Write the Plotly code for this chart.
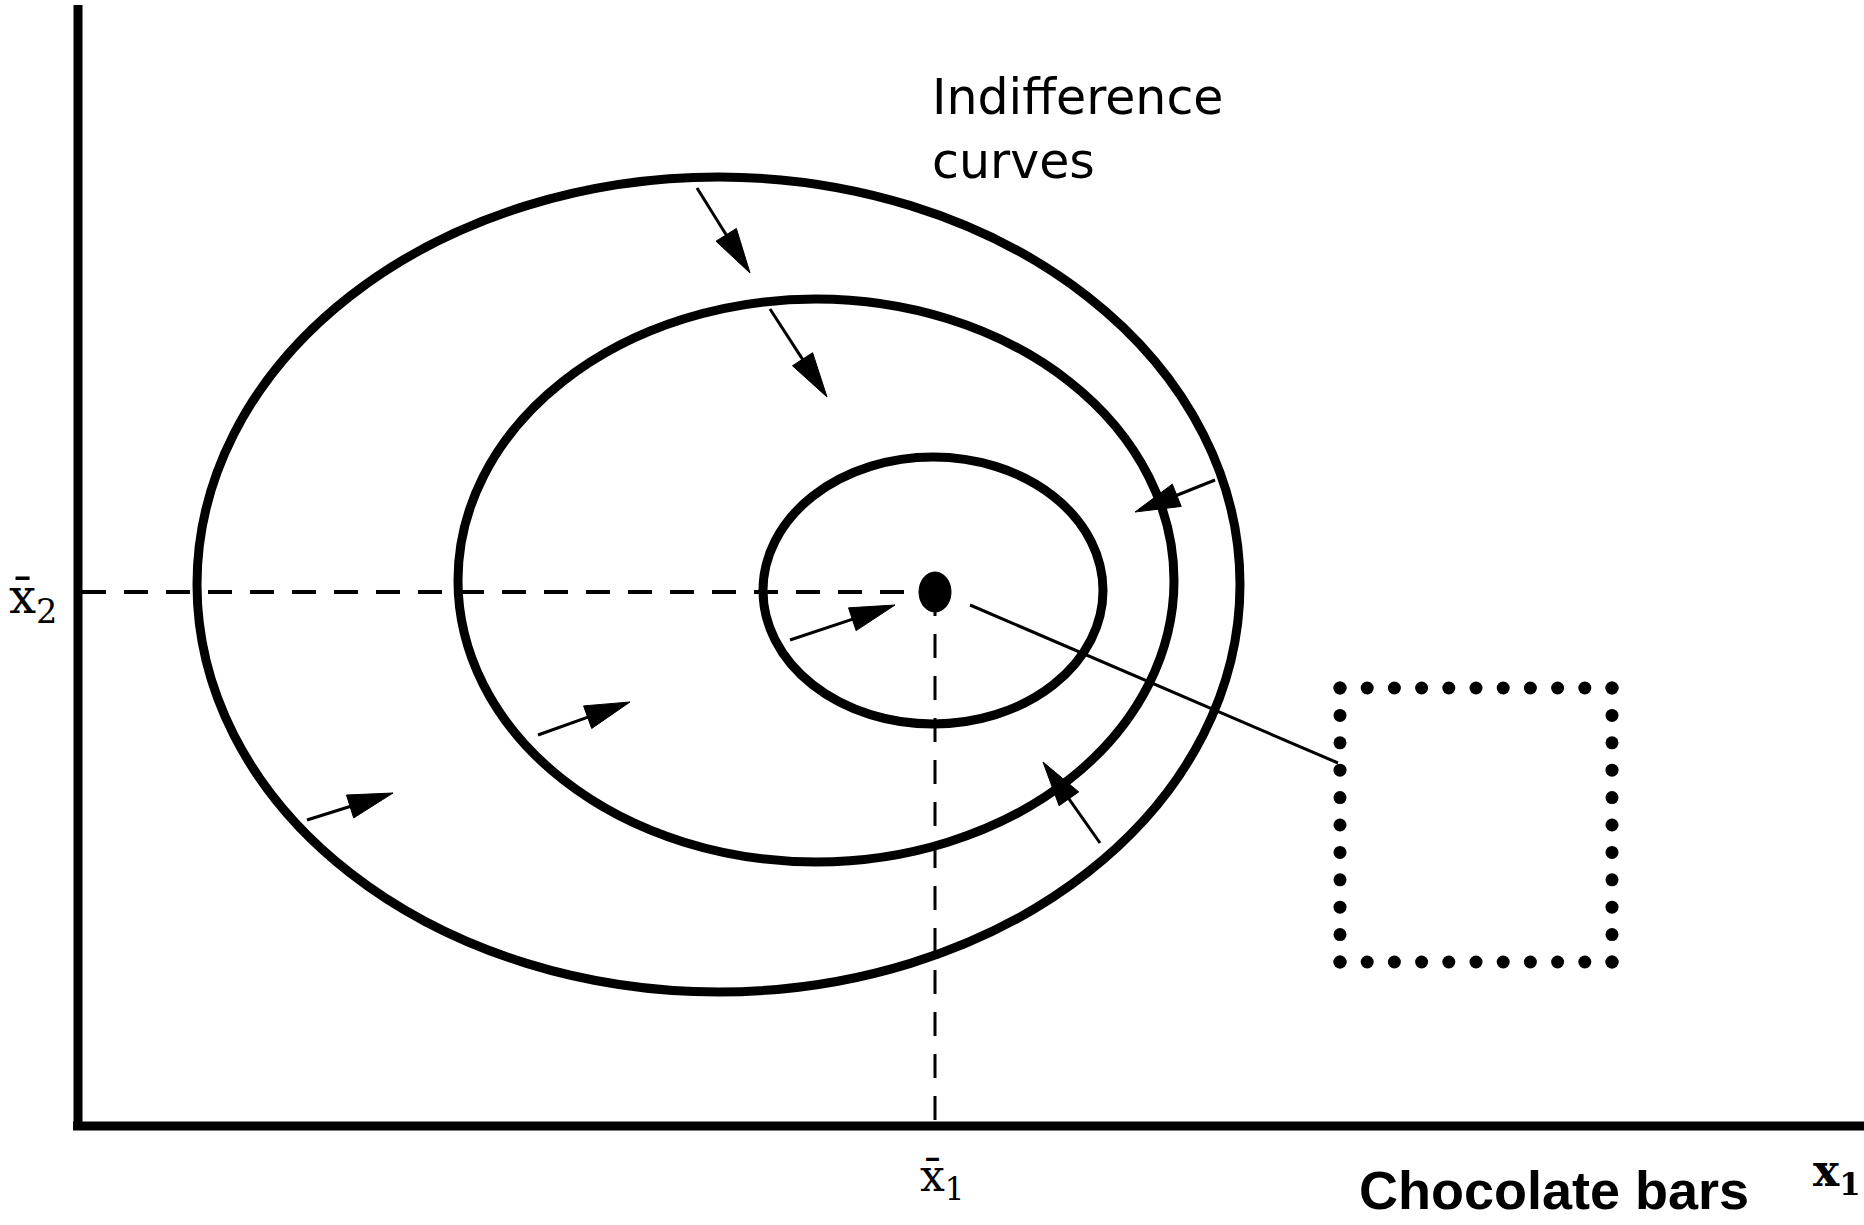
import numpy as np
import plotly.graph_objects as go

# ---- data (units: goods quantities, origin at the axes corner) ----
# indifference curves as bounding extents: [left, right], [bottom, top]
curve_names = ["outer", "middle", "inner"]
curve_x_extent = [[1.19, 11.62], [3.80, 10.96], [6.85, 10.25]]
curve_y_extent = [[1.34, 9.49], [2.64, 8.27], [4.02, 6.69]]

bliss_x1 = 8.57
bliss_x2 = 5.34

# arrows: tail -> tip
arrow_tail_x = [6.19, 6.92, 7.12, 4.60, 2.29, 11.37, 10.22]
arrow_tail_y = [9.38, 8.17, 4.86, 3.91, 3.06, 6.46, 2.83]
arrow_tip_x = [6.72, 7.49, 8.17, 5.52, 3.15, 10.57, 9.65]
arrow_tip_y = [8.53, 7.29, 5.21, 4.24, 3.33, 6.14, 3.64]

# pointer line from bliss point to the chocolate-bar box
pointer_x = [8.92, 12.60]
pointer_y = [5.21, 3.63]

# chocolate-bar box extents
box_x = [12.62, 15.34]
box_y = [1.64, 4.38]

x_axis_max = 17.86
y_axis_max = 11.21

fig = go.Figure()

# indifference curves
for (xa, xb), (ya, yb) in zip(curve_x_extent, curve_y_extent):
    fig.add_shape(type="circle", xref="x", yref="y", x0=xa, x1=xb, y0=ya, y1=yb,
                  line=dict(color="black", width=9), fillcolor="rgba(0,0,0,0)", layer="below")

# axes
fig.add_trace(go.Scatter(x=[0, 0], y=[-0.04, y_axis_max], mode="lines",
                         line=dict(color="black", width=9), hoverinfo="skip"))
fig.add_trace(go.Scatter(x=[-0.05, x_axis_max], y=[0, 0], mode="lines",
                         line=dict(color="black", width=9), hoverinfo="skip"))

# dashed guides to the bliss point
fig.add_trace(go.Scatter(x=[0.04, bliss_x1], y=[bliss_x2, bliss_x2], mode="lines",
                         line=dict(color="black", width=4, dash="24px,18px"), hoverinfo="skip"))
fig.add_trace(go.Scatter(x=[bliss_x1, bliss_x1], y=[bliss_x2, 0], mode="lines",
                         line=dict(color="black", width=3, dash="24px,18px"), hoverinfo="skip"))

# pointer line
fig.add_trace(go.Scatter(x=pointer_x, y=pointer_y, mode="lines",
                         line=dict(color="black", width=3), hoverinfo="skip"))

# arrows (shaft + filled head)
head_len = 0.45
head_half = 0.12
for tx, ty, px, py in zip(arrow_tail_x, arrow_tail_y, arrow_tip_x, arrow_tip_y):
    d = np.array([px - tx, py - ty])
    d = d / np.linalg.norm(d)
    n = np.array([-d[1], d[0]])
    tip = np.array([px, py])
    base = tip - head_len * d
    fig.add_trace(go.Scatter(x=[tx, base[0] + 0.1 * d[0]], y=[ty, base[1] + 0.1 * d[1]], mode="lines",
                             line=dict(color="black", width=3), hoverinfo="skip"))
    p1 = base + head_half * n
    p2 = base - head_half * n
    fig.add_trace(go.Scatter(x=[tip[0], p1[0], p2[0], tip[0]], y=[tip[1], p1[1], p2[1], tip[1]],
                             mode="lines", fill="toself", fillcolor="black",
                             line=dict(color="black", width=1), hoverinfo="skip"))

# dotted box
n_int = 10
bx = np.linspace(box_x[0], box_x[1], n_int + 1)
by = np.linspace(box_y[0], box_y[1], n_int + 1)
dots_x = list(bx) + list(bx) + [box_x[0]] * (n_int + 1) + [box_x[1]] * (n_int + 1)
dots_y = [box_y[1]] * (n_int + 1) + [box_y[0]] * (n_int + 1) + list(by) + list(by)
fig.add_trace(go.Scatter(x=dots_x, y=dots_y, mode="markers",
                         marker=dict(color="black", size=13, line=dict(width=0)), hoverinfo="skip"))

# bliss point dot
fig.add_shape(type="circle", xref="x", yref="y",
              x0=bliss_x1 - 0.16, x1=bliss_x1 + 0.16, y0=bliss_x2 - 0.20, y1=bliss_x2 + 0.20,
              fillcolor="black", line=dict(color="black", width=1))

annots = [
    dict(x=8.52, y=9.97, text="Indifference<br>curves", xanchor="left", yanchor="middle", align="left",
         font=dict(family="DejaVu Sans", size=49, color="black")),
    dict(x=14.76, y=-0.64, text="<b>Chocolate bars</b>", xanchor="center", yanchor="middle",
         font=dict(family="Liberation Sans", size=54, color="black")),
    dict(x=17.33, y=-0.47, text="<b>x<sub>1</sub></b>", xanchor="left", yanchor="middle",
         font=dict(family="DejaVu Serif", size=44, color="black")),
    dict(x=-0.45, y=5.27, text="x\u0304<sub>2</sub>", xanchor="center", yanchor="middle",
         font=dict(family="DejaVu Serif", size=48, color="black")),
    dict(x=8.64, y=-0.52, text="x\u0304<sub>1</sub>", xanchor="center", yanchor="middle",
         font=dict(family="DejaVu Serif", size=44, color="black")),
]
for a in annots:
    a.update(xref="x", yref="y", showarrow=False)
    fig.add_annotation(**a)

fig.update_layout(
    width=1864, height=1225,
    margin=dict(l=0, r=0, t=0, b=0),
    paper_bgcolor="white", plot_bgcolor="white",
    showlegend=False,
    xaxis=dict(range=[-0.78, 17.86], visible=False, fixedrange=True),
    yaxis=dict(range=[-0.99, 11.26], visible=False, fixedrange=True),
)

fig.write_html("out.html", config={"displayModeBar": False},
               post_script="document.body.style.margin='0';")
